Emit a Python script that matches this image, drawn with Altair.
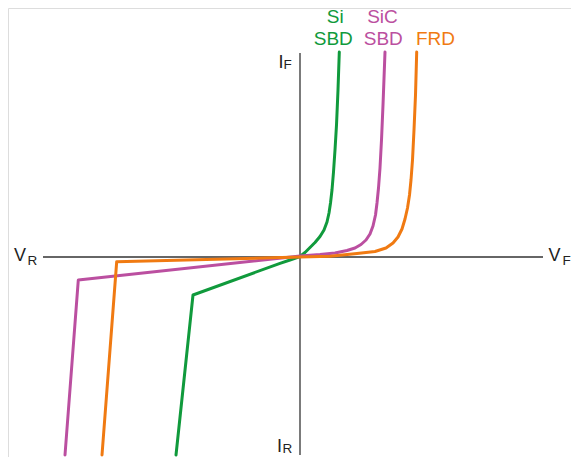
import altair as alt
import pandas as pd

# Curve data (arbitrary units: x = voltage, y = current)
si_x = [-12.4, -10.7, -2.0, -1.0, 0.0, 0.5, 1.0, 1.5, 2.0, 2.4, 2.7, 2.9, 3.05, 3.2, 3.35, 3.5, 3.65, 3.8, 3.93]
si_y = [-19.8, -3.8, -0.63, -0.3, 0.05, 0.45, 0.95, 1.45, 2.05, 2.7, 3.5, 4.4, 5.4, 6.7, 8.5, 10.7, 13.2, 16.7, 20.5]

sic_x = [-23.5, -22.17, 0.0, 2.0, 3.5, 4.7, 5.5, 6.1, 6.6, 7.0, 7.3, 7.55, 7.7, 7.85, 8.0, 8.15, 8.3, 8.5]
sic_y = [-19.8, -2.3, 0.1, 0.25, 0.4, 0.65, 0.9, 1.25, 1.7, 2.3, 3.1, 4.2, 5.4, 6.9, 8.9, 11.7, 15.2, 20.5]

frd_x = [-19.8, -18.33, 0.0, 3.0, 5.7, 7.5, 8.6, 9.3, 9.8, 10.2, 10.5, 10.75, 10.95, 11.1, 11.25, 11.4, 11.55, 11.67]
frd_y = [-19.8, -0.47, 0.0, 0.07, 0.35, 0.55, 0.9, 1.4, 2.0, 2.8, 3.8, 4.9, 6.2, 7.7, 9.7, 12.7, 16.2, 20.5]

series_names = ["Si SBD", "SiC SBD", "FRD"]
series_colors = ["#109a3c", "#bb4fa0", "#f07a12"]

# Axis extents
h_axis = [-25.7, 24.3]
v_axis = [-19.8, 20.4]

# Labels
top_text = ["Si", "SBD", "SiC", "SBD", "FRD"]
top_x = [3.52, 3.33, 8.25, 8.33, 13.55]
top_y = [23.42, 21.2, 23.42, 21.2, 21.2]
top_series = ["Si SBD", "Si SBD", "SiC SBD", "SiC SBD", "FRD"]

main_text = ["V", "V", "I", "I"]
main_x = [-28.6, 24.85, -2.15, -2.3]
main_y = [-0.4, -0.4, 18.87, -19.47]
sub_text = ["R", "F", "F", "R"]
sub_x = [-27.25, 26.25, -1.65, -1.75]
sub_y = [-0.8, -0.8, 18.77, -19.6]

rows = []
for name, xs_, ys_ in zip(series_names, [si_x, sic_x, frd_x], [si_y, sic_y, frd_y]):
    for i, (a, b) in enumerate(zip(xs_, ys_)):
        rows.append({"series": name, "order": i, "x": a, "y": b})
curves = pd.DataFrame(rows)

axes_df = pd.DataFrame([
    {"x": h_axis[0], "x2": h_axis[1], "y": 0.0, "y2": 0.0},
    {"x": 0.0, "x2": 0.0, "y": v_axis[0], "y2": v_axis[1]},
])

top_df = pd.DataFrame({"text": top_text, "x": top_x, "y": top_y, "series": top_series})
main_df = pd.DataFrame({"text": main_text, "x": main_x, "y": main_y})
sub_df = pd.DataFrame({"text": sub_text, "x": sub_x, "y": sub_y})

xs = alt.Scale(domain=[-29.2, 27.1], nice=False, zero=False)
ys = alt.Scale(domain=[-20.0, 24.9], nice=False, zero=False)
cs = alt.Scale(domain=series_names, range=series_colors)
FONT = "Liberation Sans"

axes_layer = alt.Chart(axes_df).mark_rule(color="#333333", strokeWidth=1.3).encode(
    x=alt.X("x:Q", scale=xs, axis=None),
    x2="x2:Q",
    y=alt.Y("y:Q", scale=ys, axis=None),
    y2="y2:Q",
)

curve_layer = alt.Chart(curves).mark_line(strokeWidth=3, strokeJoin="round", strokeCap="round").encode(
    x=alt.X("x:Q", scale=xs, axis=None),
    y=alt.Y("y:Q", scale=ys, axis=None),
    color=alt.Color("series:N", scale=cs, legend=None),
    order="order:Q",
)

top_layer = alt.Chart(top_df).mark_text(font=FONT, fontSize=19, align="center", baseline="alphabetic").encode(
    x=alt.X("x:Q", scale=xs, axis=None),
    y=alt.Y("y:Q", scale=ys, axis=None),
    text="text:N",
    color=alt.Color("series:N", scale=cs, legend=None),
)

main_layer = alt.Chart(main_df).mark_text(font=FONT, fontSize=18, align="left", baseline="alphabetic", color="#222222").encode(
    x=alt.X("x:Q", scale=xs, axis=None),
    y=alt.Y("y:Q", scale=ys, axis=None),
    text="text:N",
)

sub_layer = alt.Chart(sub_df).mark_text(font=FONT, fontSize=13.5, align="left", baseline="alphabetic", color="#222222").encode(
    x=alt.X("x:Q", scale=xs, axis=None),
    y=alt.Y("y:Q", scale=ys, axis=None),
    text="text:N",
)

chart = alt.layer(axes_layer, curve_layer, top_layer, main_layer, sub_layer).properties(
    width=563, height=449, padding=0, autosize=alt.AutoSizeParams(type="none")
).configure_view(stroke=None).configure(background="white")

chart.save("out.html", embed_options={"renderer": "svg", "actions": False})
